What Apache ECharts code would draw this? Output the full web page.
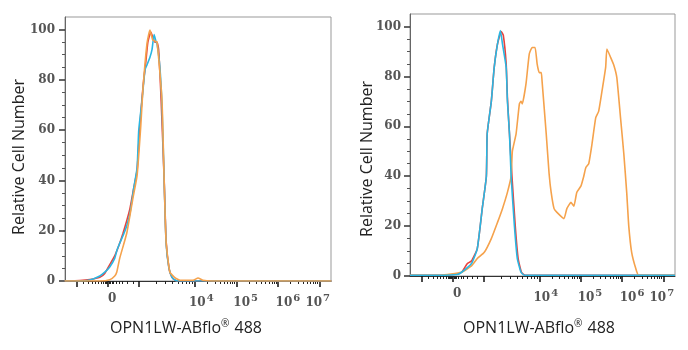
<!DOCTYPE html>
<html>
<head>
<meta charset="utf-8">
<script src="https://cdn.jsdelivr.net/npm/echarts@6/dist/echarts.min.js"></script>
<style>
  html, body { margin: 0; padding: 0; background: #fff; }
  #main { width: 688px; height: 350px; }
</style>
</head>
<body>
<div id="main"></div>
<script>
// x positions are in display units of the biexponential axis (10^4 -> 4, 10^5 -> 5 ...)
var leftRed = [[0.85,0],[1.22,0.2],[1.46,0.6],[1.70,1.5],[1.82,3],[1.94,6.5],[2.06,10],[2.18,15],[2.26,19],[2.35,24],[2.43,29],[2.52,37],[2.60,44],[2.66,60],[2.72,73],[2.76,80],[2.81,87],[2.86,95],[2.93,99],[2.98,97],[3.03,95],[3.08,95],[3.12,92],[3.18,72],[3.25,42],[3.30,16],[3.37,5],[3.44,1.5],[3.52,0.3],[3.60,0],[7.29,0]];
var leftCyan = [[0.85,0],[1.22,0],[1.46,0.4],[1.70,2],[1.82,3.5],[1.94,5.6],[2.06,9],[2.11,12],[2.18,15],[2.26,18],[2.35,22],[2.43,27],[2.52,37],[2.60,45],[2.64,60],[2.72,72],[2.79,84],[2.84,86],[2.91,89],[2.96,92],[3.01,98],[3.06,95],[3.08,94.6],[3.15,85],[3.20,70],[3.25,42],[3.30,15],[3.37,5],[3.44,1.5],[3.52,0.3],[3.60,0],[7.29,0]];
var leftOrange = [[0.85,0],[1.70,0],[1.94,0.5],[2.06,2],[2.11,3.6],[2.18,9],[2.35,19],[2.50,33],[2.60,42],[2.69,62],[2.74,76],[2.84,94.6],[2.91,99.8],[2.98,95.8],[3.08,95],[3.20,72],[3.25,42],[3.30,15.5],[3.39,3.6],[3.52,1.2],[3.64,0.3],[3.95,0.3],[4.07,1.2],[4.19,0.3],[4.40,0],[7.29,0]];

var rightRed = [[0.86,0.3],[1.60,0.3],[2.00,0.8],[2.11,1.5],[2.25,5],[2.35,6],[2.49,11],[2.61,27],[2.71,40],[2.73,57],[2.83,70],[2.90,83.6],[2.98,93],[3.07,98],[3.12,96.5],[3.19,85],[3.22,71.5],[3.27,57],[3.33,40],[3.41,20],[3.48,7],[3.56,1.5],[3.65,0.3],[7.28,0.3]];
var rightCyan = [[0.86,0.3],[1.60,0.3],[2.00,0.6],[2.11,1.5],[2.35,5],[2.49,11],[2.61,27],[2.71,40],[2.73,57],[2.83,70],[2.90,83.6],[2.98,93],[3.05,98.4],[3.10,93],[3.19,83.6],[3.22,70],[3.27,57],[3.31,40],[3.39,20],[3.46,7],[3.55,1.5],[3.63,0.3],[7.28,0.3]];
var rightOrange = [[0.86,0.3],[1.60,0.3],[2.11,1.5],[2.35,4],[2.49,7],[2.66,9.5],[2.83,15],[2.98,21.5],[3.10,27],[3.22,33.5],[3.31,40],[3.34,50],[3.43,57],[3.51,69],[3.55,70],[3.58,69],[3.67,77],[3.75,89],[3.82,91.6],[3.89,91.6],[3.94,85],[3.99,81.5],[4.04,81.5],[4.06,78],[4.16,57],[4.23,41],[4.28,33.5],[4.35,27],[4.42,25.5],[4.59,23],[4.66,27],[4.76,29.5],[4.83,28],[4.90,33.5],[5.00,36],[5.07,40],[5.12,43.5],[5.19,45],[5.27,53],[5.36,63.5],[5.43,66],[5.51,74],[5.60,83.6],[5.63,91],[5.72,87.6],[5.80,84.4],[5.87,79.6],[5.96,63.5],[6.04,49],[6.11,33.5],[6.16,20],[6.23,9.5],[6.33,3],[6.40,0.3],[7.28,0.3]];

var xMajorTicks = [1.15, 1.9, 2.65, 4, 5, 6, 7];
var xMinorTicks = [1.3,1.42,1.52,1.6,1.67,1.73,1.78,1.82,1.84,1.86,1.88,1.92,1.94,1.96,1.99,2.03,2.09,2.16,2.25,2.36,2.5,
  3.06,3.29,3.46,3.59,3.7,3.79,3.87,3.94,4.3,4.48,4.6,4.7,4.78,4.85,4.9,4.95,
  5.3,5.48,5.6,5.7,5.78,5.85,5.9,5.95,6.3,6.48,6.6,6.7,6.78,6.85,6.9,6.95];
var xLabelPos = [2.0, 4.15, 5.22, 6.24, 6.96];
var xLabelText = ['{n|0}', '{n|10}{s|4}', '{n|10}{s|5}', '{n|10}{s|6}', '{n|10}{s|7}'];
var yMajorTicks = [0, 20, 40, 60, 80, 100];
var yMinorTicks = [5,10,15,25,30,35,45,50,55,65,70,75,85,90,95];

var xTitle = '{a|OPN1LW-ABflo}{r|®}{a| 488}';
var yTitle = 'Relative Cell Number';

var RED = '#e8433d', CYAN = '#2ab6e2', ORANGE = '#f5a24c';
var labelFont = { fontFamily: 'DejaVu Serif', fontWeight: 'bold', fontSize: 12, color: '#555' };
var titleRich = {
  a: { fontFamily: 'Open Sans', fontSize: 16, fill: '#222' },
  r: { fontFamily: 'Open Sans', fontSize: 10, fill: '#222', padding: [0, 1, 8, 0] }
};

function xMajor(gridIndex) {
  return {
    type: 'value', gridIndex: gridIndex, min: 0.86, max: 7.28, position: 'bottom',
    axisLine: { show: true, lineStyle: { color: '#333', width: 1 } },
    axisTick: { show: true, customValues: xMajorTicks, length: 6, lineStyle: { color: '#111', width: 1.5 } },
    axisLabel: {
      show: true, customValues: xLabelPos, margin: 12,
      formatter: function (v) {
        for (var i = 0; i < xLabelPos.length; i++) {
          if (Math.abs(xLabelPos[i] - v) < 1e-6) return xLabelText[i];
        }
        return '';
      },
      rich: {
        n: labelFont,
        s: { fontFamily: 'DejaVu Serif', fontWeight: 'bold', fontSize: 10, color: '#555', padding: [0, 0, 9, 1] }
      }
    },
    splitLine: { show: false }
  };
}
function xMinor(gridIndex) {
  return {
    type: 'value', gridIndex: gridIndex, min: 0.86, max: 7.28, position: 'bottom',
    axisLine: { show: false },
    axisTick: { show: true, customValues: xMinorTicks, length: 3, lineStyle: { color: '#222', width: 1 } },
    axisLabel: { show: false },
    splitLine: { show: false }
  };
}
function yMajor(gridIndex, margin) {
  return {
    type: 'value', gridIndex: gridIndex, min: 0, max: 105,
    axisLine: { show: true, lineStyle: { color: '#666', width: 1 } },
    axisTick: { show: true, customValues: yMajorTicks, length: 6, lineStyle: { color: '#333', width: 1.5 } },
    axisLabel: Object.assign({ show: true, customValues: yMajorTicks, margin: margin }, labelFont),
    splitLine: { show: false }
  };
}
function yMinor(gridIndex) {
  return {
    type: 'value', gridIndex: gridIndex, min: 0, max: 105, position: 'left',
    axisLine: { show: false },
    axisTick: { show: true, customValues: yMinorTicks, length: 3, lineStyle: { color: '#555', width: 1 } },
    axisLabel: { show: false },
    splitLine: { show: false }
  };
}
function curve(data, color, xi, yi) {
  return {
    type: 'line', data: data, xAxisIndex: xi, yAxisIndex: yi,
    showSymbol: false, smooth: 0.15,
    lineStyle: { color: color, width: 1.6 }, itemStyle: { color: color }
  };
}

var myChart = echarts.init(document.getElementById('main'), null, { renderer: 'canvas' });
myChart.setOption({
  animation: false,
  backgroundColor: '#fff',
  grid: [
    { left: 65, top: 17, width: 266, height: 264, show: true, borderColor: '#999', borderWidth: 1 },
    { left: 410, top: 14, width: 265, height: 262, show: true, borderColor: '#999', borderWidth: 1 }
  ],
  xAxis: [xMajor(0), xMinor(0), xMajor(1), xMinor(1)],
  yAxis: [yMajor(0, 10), yMinor(0), yMajor(1, 9), yMinor(1)],
  series: [
    curve(leftRed, RED, 0, 0),
    curve(leftCyan, CYAN, 0, 0),
    curve(leftOrange, ORANGE, 0, 0),
    curve(rightRed, RED, 2, 2),
    curve(rightOrange, ORANGE, 2, 2),
    curve(rightCyan, CYAN, 2, 2)
  ],
  graphic: [
    { type: 'text', x: 19, y: 157, rotation: Math.PI / 2,
      style: { text: yTitle, font: '16px "Open Sans"', fill: '#222', align: 'center', verticalAlign: 'middle' } },
    { type: 'text', x: 367, y: 159, rotation: Math.PI / 2,
      style: { text: yTitle, font: '16px "Open Sans"', fill: '#222', align: 'center', verticalAlign: 'middle' } },
    { type: 'text', x: 186, y: 328,
      style: { text: xTitle, rich: titleRich, align: 'center', verticalAlign: 'middle' } },
    { type: 'text', x: 539, y: 328,
      style: { text: xTitle, rich: titleRich, align: 'center', verticalAlign: 'middle' } }
  ]
});
</script>
</body>
</html>
